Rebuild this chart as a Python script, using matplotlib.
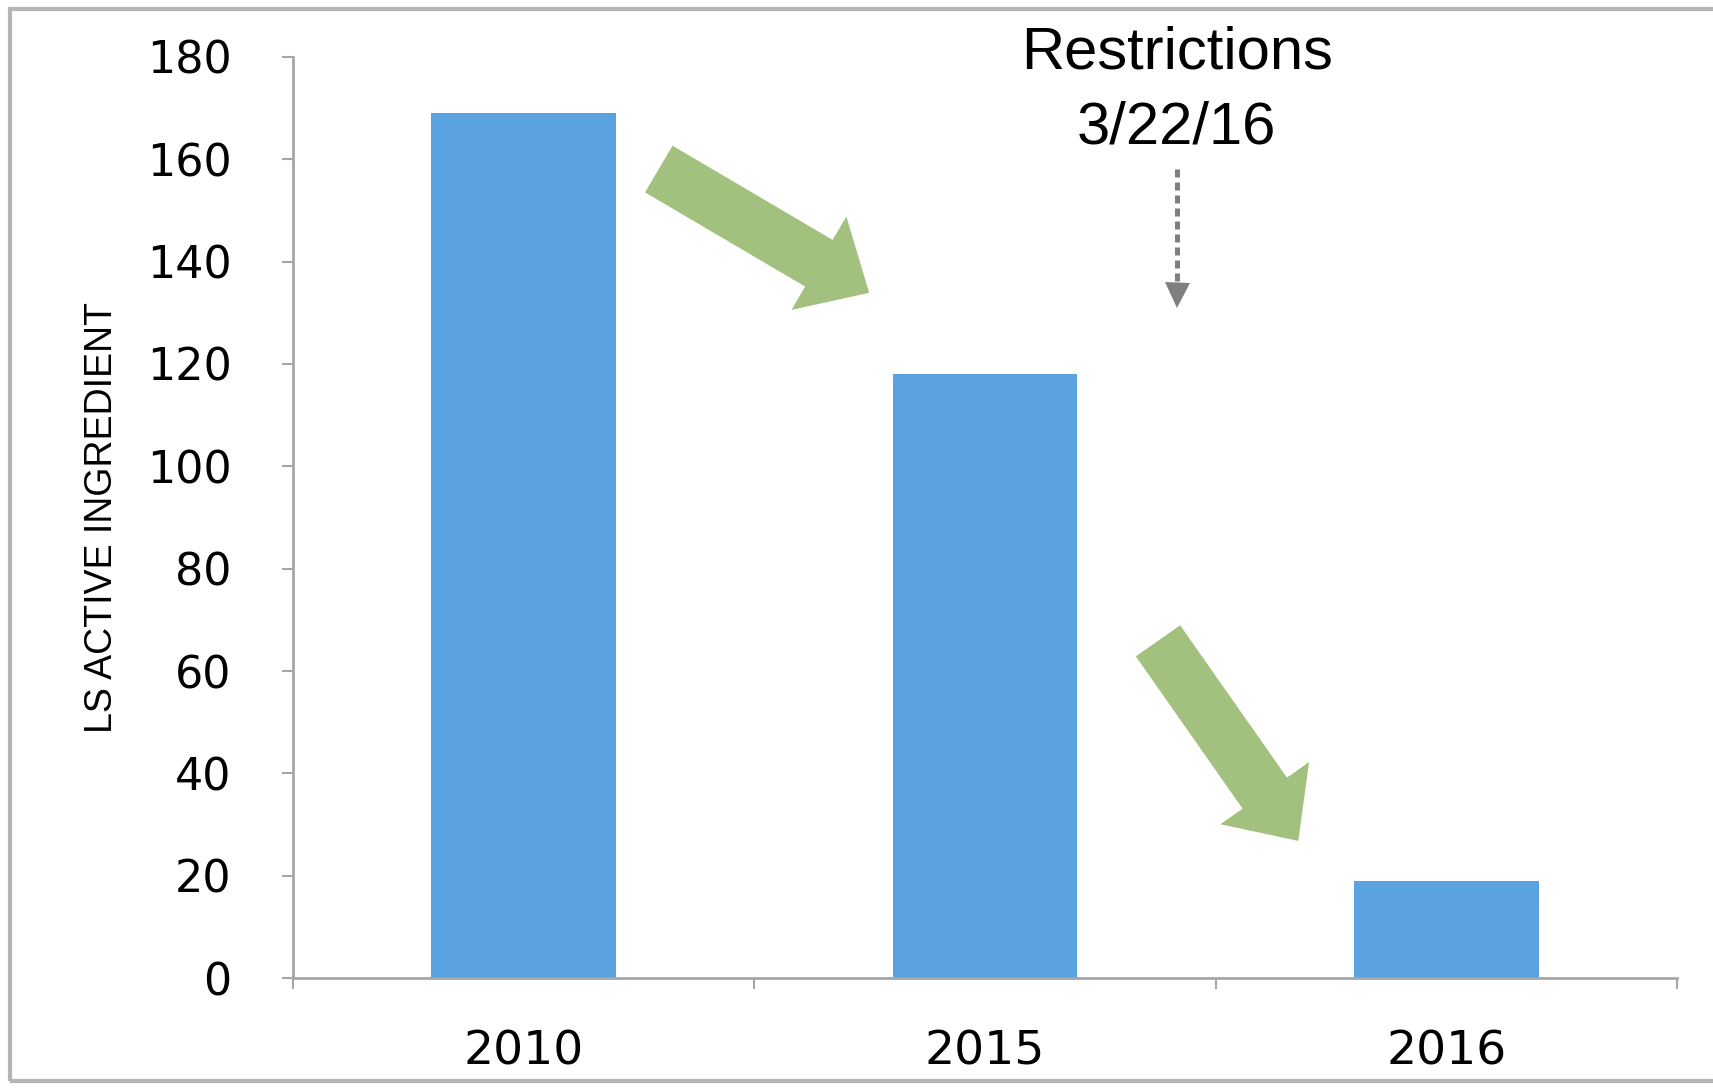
import matplotlib
matplotlib.use("Agg")
import matplotlib.pyplot as plt
from matplotlib.patches import Rectangle

# Data
years = ["2010", "2015", "2016"]
ls_active = [169, 118, 19]
y_ticks = [0, 20, 40, 60, 80, 100, 120, 140, 160, 180]

BLUE = "#5BA3E0"
GREEN = "#A3C17E"
GRAY_ARROW = "#7F7F7F"
AXIS_GRAY = "#A6A6A6"

fig = plt.figure(figsize=(17.13, 10.89), dpi=100)
ax = fig.add_axes([0.171, 0.1019, 0.808, 0.8458])

x = list(range(len(years)))
ax.bar(x, ls_active, width=0.4, color=BLUE, linewidth=0)

ax.set_xlim(-0.5, 2.5)
ax.set_ylim(0, 180)
ax.set_yticks(y_ticks)
ax.set_xticks(x)
ax.set_xticklabels(years)
ax.set_xticks([-0.5, 0.5, 1.5, 2.5], minor=True)

for side in ["top", "right"]:
    ax.spines[side].set_visible(False)
for side in ["left", "bottom"]:
    ax.spines[side].set_color(AXIS_GRAY)
    ax.spines[side].set_linewidth(2)

ax.tick_params(axis="y", direction="out", length=8, width=1.5, color=AXIS_GRAY,
               pad=36, labelsize=32)
ax.tick_params(axis="x", which="major", length=0, pad=37, labelsize=34)
ax.tick_params(axis="x", which="minor", direction="out", length=8, width=1.5,
               color=AXIS_GRAY)

ax.set_ylabel("LS ACTIVE INGREDIENT", fontsize=27, family="Liberation Sans")
ax.yaxis.set_label_coords(-0.125, 0.5)

# green trend arrows
arrow_style = "simple,head_length=42,head_width=78,tail_width=39"
ax.annotate("", xy=(0.749, 133.9), xytext=(0.293, 158.1),
            arrowprops=dict(arrowstyle=arrow_style, mutation_scale=1,
                            color=GREEN, shrinkA=0, shrinkB=0, lw=0))
ax.annotate("", xy=(1.679, 26.8), xytext=(1.375, 65.9),
            arrowprops=dict(arrowstyle=arrow_style, mutation_scale=1,
                            color=GREEN, shrinkA=0, shrinkB=0, lw=0))

# dotted marker for the restriction date
ax.plot([1.416, 1.416], [158.1, 135.5], color=GRAY_ARROW, lw=3.6,
        linestyle=(0, (1.6, 1.0)), solid_capstyle="butt", dash_capstyle="butt")
ax.plot([1.416], [133.4], marker="v", markersize=18, color=GRAY_ARROW,
        markeredgewidth=0)

fig.text(0.687, 0.937, "Restrictions", ha="center", va="baseline",
         fontsize=43, family="Liberation Sans")
fig.text(0.687, 0.868, "3/22/16", ha="center", va="baseline",
         fontsize=43, family="Liberation Sans")

# outer frame of the picture
fig.patches.append(Rectangle((0.006, 0.007), 1.1, 0.985, transform=fig.transFigure,
                             fill=False, edgecolor="#B5B5B5", lw=3))

fig.savefig("out.png", dpi=100)
